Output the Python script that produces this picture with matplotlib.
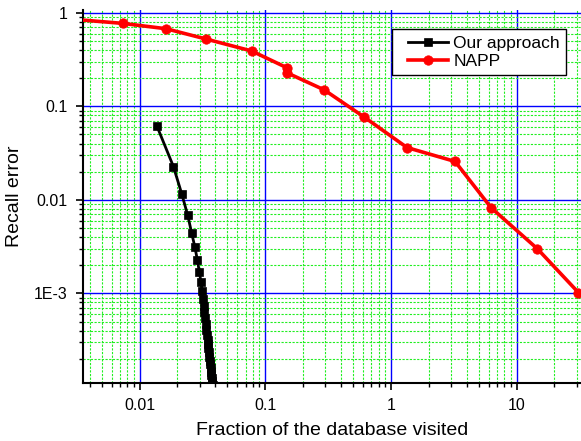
import matplotlib.pyplot as plt
from matplotlib.ticker import FixedLocator, FixedFormatter, LogLocator, NullFormatter
from matplotlib.legend_handler import HandlerLine2D

plt.rcParams['font.family'] = ['Liberation Sans', 'DejaVu Sans']

# Our approach (black squares)
ours_x = [0.0137, 0.0186, 0.0217, 0.0242, 0.0260, 0.0276, 0.0288, 0.0299, 0.0308, 0.0316,
          0.0320, 0.03245, 0.03285, 0.03327, 0.03366, 0.03404, 0.0344, 0.03475, 0.03503, 0.03535,
          0.03565, 0.03598, 0.03628, 0.03653, 0.0368, 0.03711, 0.03732, 0.03756, 0.03782, 0.0381,
          0.03833, 0.0386]
ours_y = [0.0622, 0.0227, 0.0115, 0.0068, 0.0044, 0.0031, 0.0023, 0.0017, 0.00133, 0.00105,
          8.7e-4, 7.3e-4, 6.3e-4, 5.4e-4, 4.7e-4, 4.1e-4, 3.6e-4, 3.2e-4, 2.9e-4, 2.6e-4,
          2.35e-4, 2.1e-4, 1.9e-4, 1.75e-4, 1.6e-4, 1.45e-4, 1.35e-4, 1.25e-4, 1.15e-4, 1.05e-4,
          9.8e-5, 9.0e-5]

# NAPP (red circles)
napp_x = [0.003, 0.00735, 0.01625, 0.0338, 0.0781, 0.148, 0.148, 0.294, 0.614, 1.343,
          3.236, 6.26, 14.6, 31.0]
napp_y = [0.85, 0.77, 0.675, 0.524, 0.390, 0.259, 0.229, 0.150, 0.0765, 0.0362,
          0.0257, 0.00824, 0.0030, 0.00102]

xticks = [0.01, 0.1, 1, 10]
xticklabels = ['0.01', '0.1', '1', '10']
yticks = [0.001, 0.01, 0.1, 1]
yticklabels = ['1E-3', '0.01', '0.1', '1']

fig = plt.figure(figsize=(5.81, 4.41), dpi=100)
ax = fig.add_axes([0.1423, 0.1315, 0.8577, 0.8458])

ax.plot(ours_x, ours_y, color='black', lw=2, marker='s', ms=6, mew=0.5,
        label='Our approach', zorder=3)
ax.plot(napp_x, napp_y, color='red', lw=2.6, marker='o', ms=6.8, mew=0.5,
        label='NAPP', zorder=3)

ax.set_xscale('log')
ax.set_yscale('log')
ax.set_xlim(0.00353, 32.5)
ax.set_ylim(1.1e-4, 1.07)

ax.xaxis.set_major_locator(FixedLocator(xticks))
ax.xaxis.set_major_formatter(FixedFormatter(xticklabels))
ax.yaxis.set_major_locator(FixedLocator(yticks))
ax.yaxis.set_major_formatter(FixedFormatter(yticklabels))
ax.xaxis.set_minor_locator(LogLocator(base=10, subs=range(2, 10), numticks=20))
ax.yaxis.set_minor_locator(LogLocator(base=10, subs=range(2, 10), numticks=20))
ax.xaxis.set_minor_formatter(NullFormatter())
ax.yaxis.set_minor_formatter(NullFormatter())

ax.grid(which='minor', color='#22ee22', lw=0.8, dashes=(2, 1.3))
ax.grid(which='major', color='blue', lw=1.0, linestyle='-')
ax.set_axisbelow(True)

for s in ['top', 'right']:
    ax.spines[s].set_visible(False)
for s in ['left', 'bottom']:
    ax.spines[s].set_linewidth(1.5)

ax.tick_params(which='major', length=5, width=1.2, labelsize=11.5, pad=6)
ax.tick_params(which='minor', length=3, width=1.0)

ax.set_xlabel('Fraction of the database visited', fontsize=14, labelpad=6)
ax.set_ylabel('Recall error', fontsize=14, labelpad=8)

# a little extra room left of the legend handles
hmap = {l: HandlerLine2D(xpad=0.6) for l in ax.get_lines()}
leg = ax.legend(loc='upper right', bbox_to_anchor=(0.970, 0.948), borderaxespad=0,
                fontsize=12.5, fancybox=False, framealpha=1, edgecolor='black',
                handlelength=2.9, labelspacing=0.2, borderpad=0.35, handletextpad=0.3,
                handler_map=hmap)
leg.get_frame().set_linewidth(1.0)

plt.savefig('out.png', dpi=100)
